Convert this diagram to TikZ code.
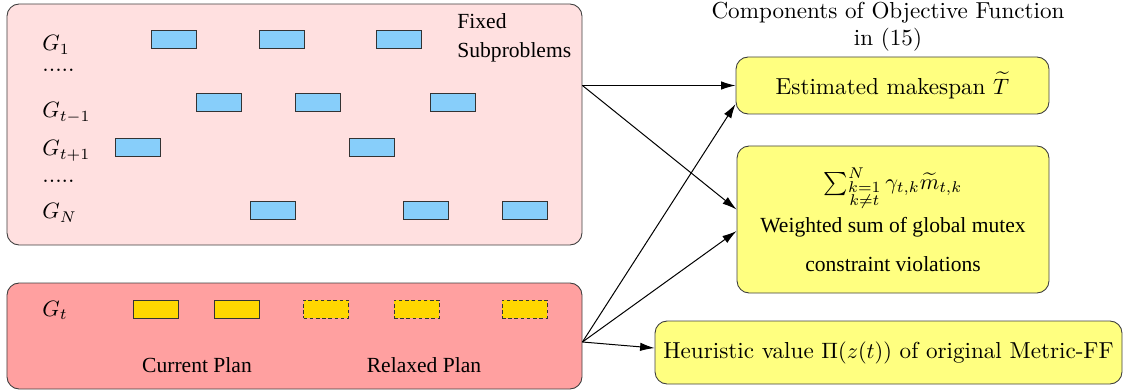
\documentclass[tikz,border=0pt]{standalone}
\usepackage{amsmath}
\usepackage{amssymb}
\usepackage{fontspec}
\newfontfamily\timesfont{Liberation Serif}
\usetikzlibrary{arrows.meta,positioning}

\definecolor{fixedpink}{RGB}{255,224,224}
\definecolor{curpink}{RGB}{255,160,160}
\definecolor{objyellow}{RGB}{255,255,128}
\definecolor{barblue}{RGB}{135,206,250}
\definecolor{bargold}{RGB}{255,215,0}

\begin{document}
\begin{tikzpicture}[
  x=0.45pt, y=-0.45pt,
  panel/.style={draw=black!75, rounded corners=5.5pt, inner sep=0pt},
  objbox/.style={draw=black!75, fill=objyellow, rounded corners=5.5pt,
                 inner sep=0pt, align=center, font=\fontsize{10.4}{12.4}\selectfont},
  bar/.style={draw=black!80, line width=0.4pt, minimum width=20.25pt,
              minimum height=8.1pt, inner sep=0pt},
  planned/.style={bar, fill=barblue},
  current/.style={bar, fill=bargold},
  relaxed/.style={bar, fill=bargold, dashed, dash pattern=on 1.6pt off 1.2pt},
  lbl/.style={anchor=base west, inner sep=0pt, font=\fontsize{10.4}{12.4}\selectfont},
  tms/.style={font=\timesfont\fontsize{9.7}{13}\selectfont},
  every edge/.style={draw, line width=0.45pt, -{Latex[length=6.5pt,width=3.8pt]}}
]
\useasboundingbox (0,0) rectangle (1123,391);

% the two groups of subproblems
\node[panel, fill=fixedpink, minimum width=258.75pt, minimum height=108.45pt]
  (fixed) at (294.5,124.5) {};
\node[panel, fill=curpink, minimum width=258.75pt, minimum height=47.7pt]
  (cur) at (294.5,336) {};

\node[lbl] (g1)  at (42,51)  {$G_1$};
\node[lbl] (d1)  at (42,72)  {.....};
\node[lbl] (gm)  at (42,118) {$G_{t-1}$};
\node[lbl] (gp)  at (42,156) {$G_{t+1}$};
\node[lbl] (d2)  at (42,183) {.....};
\node[lbl] (gn)  at (42,219) {$G_N$};
\node[lbl] (gt)  at (42,316) {$G_t$};
\node[tms, anchor=west, align=left, inner sep=0pt] (fixlbl) at (457,38)
  {Fixed\\Subproblems};

\foreach \bx/\by [count=\i] in {173.5/39, 281.5/39, 398.5/39,
    218.5/102, 317.5/102, 452.5/102, 137.5/147, 371.5/147,
    272.5/210, 425.5/210, 524.5/210}
  \node[planned] (p\i) at (\bx,\by) {};
\foreach \bx [count=\i] in {155.5, 236.5}
  \node[current] (c\i) at (\bx,309) {};
\foreach \bx [count=\i] in {326, 416.5, 524.5}
  \node[relaxed] (r\i) at (\bx,309) {};

\node[tms] (curlbl) at (197,365) {Current Plan};
\node[tms] (rellbl) at (424,365) {Relaxed Plan};

% objective terms
\node[align=center, font=\fontsize{10.4}{12.2}\selectfont] (title) at (888,27)
  {Components of Objective Function\\in (15)};
\node[objbox, minimum width=140.85pt, minimum height=25.65pt] (makespan)
  at (892.5,85.5) {Estimated makespan $\widetilde{T}$};
\node[objbox, minimum width=140.4pt, minimum height=66.15pt] (mutex)
  at (893,219.5)
  {$\sum_{\substack{k=1\\k\neq t}}^{N}\gamma_{t,k}\widetilde{m}_{t,k}$\\[3pt]
   {\timesfont\fontsize{9.7}{12}\selectfont Weighted sum of global mutex}\\[5pt]
   {\timesfont\fontsize{9.7}{12}\selectfont constraint violations}};
\node[objbox, minimum width=210.15pt, minimum height=28.35pt] (heur)
  at (888.5,352.5) {Heuristic value $\Pi(z(t))$ of original Metric-FF};

\coordinate (fixout) at (fixed.east |- makespan.west);
\coordinate (curout) at ([yshift=-2.7pt]cur.east);
\path (fixout) edge (makespan.west)
      (fixout) edge ([yshift=4.5pt]mutex.west)
      (curout) edge ([yshift=-8.3pt]makespan.west)
      (curout) edge ([yshift=-5.2pt]mutex.west)
      (curout) edge ([yshift=2pt]heur.west);
\end{tikzpicture}
\end{document}
